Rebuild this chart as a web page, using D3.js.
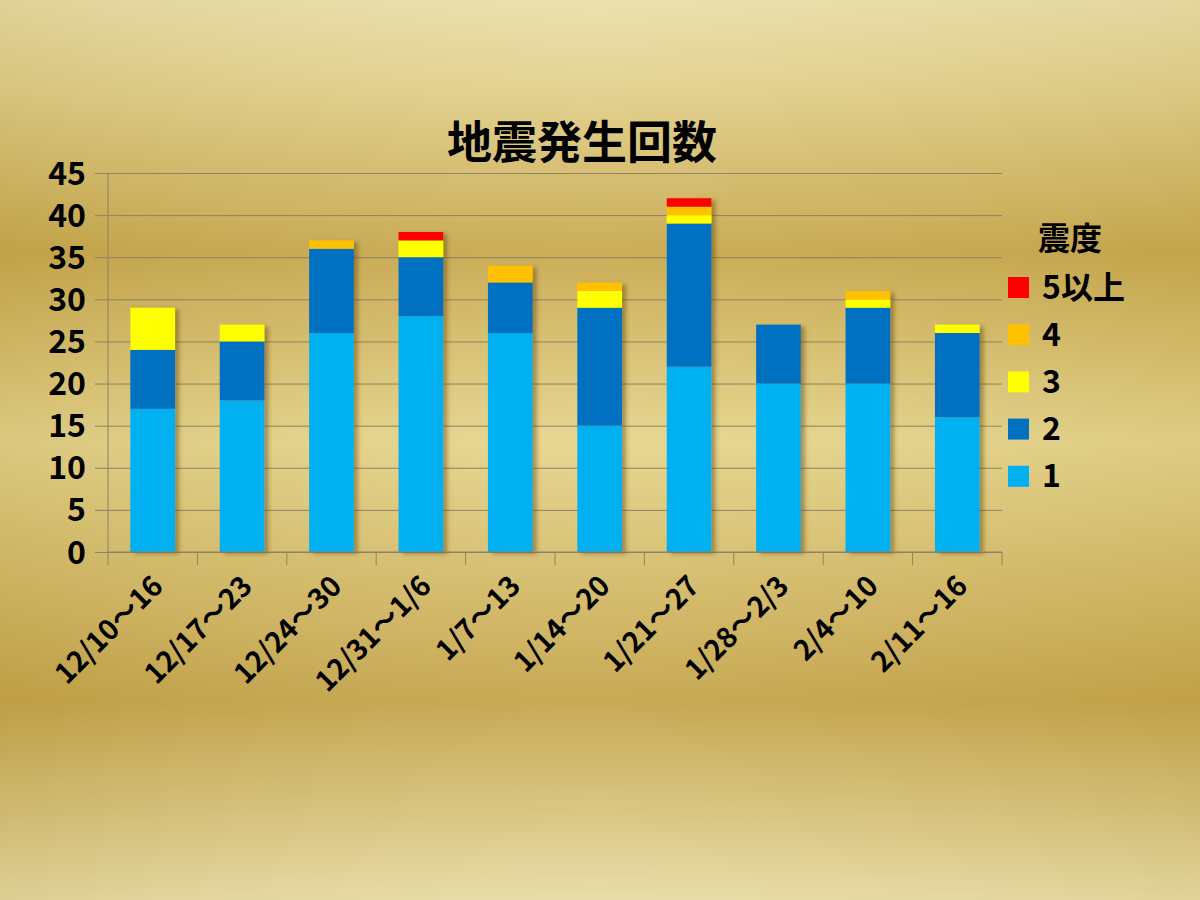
<!DOCTYPE html>
<html>
<head>
<meta charset="utf-8">
<script src="https://cdn.jsdelivr.net/npm/d3@7"></script>
<style>
  body { margin: 0; }
  svg { display: block; }
  text { font-family: "Noto Sans CJK JP", "Noto Sans", sans-serif; font-weight: bold; fill: #000; }
</style>
</head>
<body>
<svg id="chart" width="1200" height="900"></svg>
<script>
// weekly periods
var categories = ["12/10～16", "12/17～23", "12/24～30", "12/31～1/6", "1/7～13",
                  "1/14～20", "1/21～27", "1/28～2/3", "2/4～10", "2/11～16"];

// counts per intensity (震度)
var shindo1 = [17, 18, 26, 28, 26, 15, 22, 20, 20, 16];
var shindo2 = [7, 7, 10, 7, 6, 14, 17, 7, 9, 10];
var shindo3 = [5, 2, 0, 2, 0, 2, 1, 0, 1, 1];
var shindo4 = [0, 0, 1, 0, 2, 1, 1, 0, 1, 0];
var shindo5 = [0, 0, 0, 1, 0, 0, 1, 0, 0, 0];

var seriesNames = ["1", "2", "3", "4", "5以上"];
var colors = ["#00B0F0", "#0070C0", "#FFFF00", "#FFC000", "#FF0000"];
var yTicks = [0, 5, 10, 15, 20, 25, 30, 35, 40, 45];

var svg = d3.select("#chart");

// gold background
var defs = svg.append("defs");
var bg = defs.append("linearGradient").attr("id", "bg")
  .attr("x1", 0).attr("y1", 0).attr("x2", 0).attr("y2", 1);
[[0, "#EBE0AA"], [0.1, "#E2D08C"], [0.28, "#C8A94F"], [0.49, "#E6D58D"],
 [0.78, "#C5A54C"], [1, "#E8DCA5"]].forEach(function (s) {
  bg.append("stop").attr("offset", s[0]).attr("stop-color", s[1]);
});
var shade = defs.append("linearGradient").attr("id", "shade")
  .attr("x1", 0).attr("y1", 0).attr("x2", 1).attr("y2", 0);
shade.append("stop").attr("offset", 0).attr("stop-color", "#8a6a10").attr("stop-opacity", 0.12);
shade.append("stop").attr("offset", 0.5).attr("stop-color", "#ffffff").attr("stop-opacity", 0.05);
shade.append("stop").attr("offset", 1).attr("stop-color", "#8a6a10").attr("stop-opacity", 0.08);

var shadow = defs.append("filter").attr("id", "shadow")
  .attr("x", "-20%").attr("y", "-20%").attr("width", "150%").attr("height", "140%");
shadow.append("feDropShadow").attr("dx", 4).attr("dy", 2).attr("stdDeviation", 2)
  .attr("flood-color", "#5a4000").attr("flood-opacity", 0.45);

svg.append("rect").attr("width", 1200).attr("height", 900).attr("fill", "url(#bg)");
svg.append("rect").attr("width", 1200).attr("height", 900).attr("fill", "url(#shade)");

var plotL = 108, plotR = 1002, plotT = 173, plotB = 552;

var x = d3.scaleBand().domain(categories).range([plotL, plotR]).paddingInner(0.5).paddingOuter(0.25);
var xb = d3.scaleBand().domain(categories).range([plotL, plotR]);
var y = d3.scaleLinear().domain([0, 45]).range([plotB, plotT]);

// gridlines + y ticks
svg.append("g")
  .attr("transform", "translate(" + plotL + ",0)")
  .call(d3.axisLeft(y).tickValues(yTicks).tickSize(-(plotR - plotL)).tickFormat(""))
  .call(function (g) {
    g.select(".domain").remove();
    g.selectAll("line").attr("stroke", "#8c8264").attr("stroke-width", 1)
      .attr("x1", -13);
  });

svg.append("g").selectAll("text")
  .data(yTicks).enter().append("text")
  .attr("x", 86).attr("y", function (d) { return y(d); })
  .attr("dy", "0.36em").attr("text-anchor", "end")
  .style("font-size", "32px")
  .text(function (d) { return d; });

// stacked bars
var table = categories.map(function (c, i) {
  return { cat: c, s0: shindo1[i], s1: shindo2[i], s2: shindo3[i], s3: shindo4[i], s4: shindo5[i] };
});
var stack = d3.stack().keys(["s0", "s1", "s2", "s3", "s4"])(table);

var barG = svg.append("g").attr("filter", "url(#shadow)");
stack.forEach(function (layer, k) {
  barG.selectAll(".bar" + k)
    .data(layer.filter(function (d) { return d[1] > d[0]; }))
    .enter().append("rect")
    .attr("x", function (d) { return x(d.data.cat); })
    .attr("width", x.bandwidth())
    .attr("y", function (d) { return y(d[1]); })
    .attr("height", function (d) { return y(d[0]) - y(d[1]); })
    .attr("fill", colors[k]);
});

// axes lines
svg.append("line").attr("x1", plotL).attr("x2", plotL).attr("y1", plotT).attr("y2", plotB + 13)
  .attr("stroke", "#8c8264");
svg.append("line").attr("x1", plotL).attr("x2", plotR).attr("y1", plotB).attr("y2", plotB)
  .attr("stroke", "#8c8264");
svg.append("g").selectAll("line")
  .data(categories.slice(1).concat(["end"])).enter().append("line")
  .attr("x1", function (d) { return d === "end" ? plotR : xb(d); })
  .attr("x2", function (d) { return d === "end" ? plotR : xb(d); })
  .attr("y1", plotB).attr("y2", plotB + 13)
  .attr("stroke", "#8c8264");

// x labels
svg.append("g").selectAll("text")
  .data(categories).enter().append("text")
  .attr("transform", function (d) {
    return "translate(" + (x(d) + x.bandwidth() / 2 + 5) + "," + (plotB + 29) + ") rotate(-45)";
  })
  .attr("text-anchor", "end")
  .attr("dy", "0.35em")
  .style("font-size", "28px")
  .text(function (d) { return d; });

// title
svg.append("text").attr("x", 582).attr("y", 159).attr("text-anchor", "middle")
  .style("font-size", "45px").text("地震発生回数");

// legend
svg.append("text").attr("x", 1038).attr("y", 250).style("font-size", "32px").text("震度");
var legendOrder = [4, 3, 2, 1, 0];
var lg = svg.append("g").selectAll("g")
  .data(legendOrder).enter().append("g")
  .attr("transform", function (d, i) { return "translate(1008," + (287 + i * 47.2) + ")"; });
lg.append("rect").attr("x", 0).attr("y", -10).attr("width", 21).attr("height", 21)
  .attr("fill", function (d) { return colors[d]; });
lg.append("text").attr("x", 34).attr("dy", "0.36em").style("font-size", "32px")
  .text(function (d) { return seriesNames[d]; });
</script>
</body>
</html>
